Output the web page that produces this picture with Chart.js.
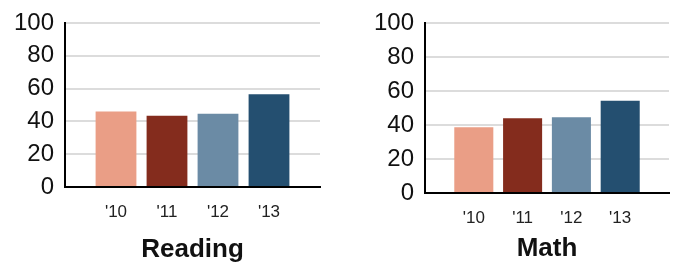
<!DOCTYPE html>
<html>
<head>
<meta charset="utf-8">
<script src="https://cdn.jsdelivr.net/npm/chart.js@4"></script>
<style>
  body { margin: 0; background: #fff; }
  .box { position: absolute; top: 0; height: 266px; }
  #left { left: 0; width: 340px; }
  #right { left: 340px; width: 338px; }
</style>
</head>
<body>
<div class="box" id="left"><canvas id="leitura"></canvas></div>
<div class="box" id="right"><canvas id="matematica"></canvas></div>
<script>
// empty labels at the ends keep the bars off the axes
const anos = ['', "'10", "'11", "'12", "'13", '']
const leitura = [null, 46, 43.5, 44.6, 56.5, null]
const matematica = [null, 38.7, 44, 44.6, 54.2, null]
const yTicks = [0, 20, 40, 60, 80, 100]
const cores = ['#fff', '#ea9e86', '#842c1d', '#6b8ba5', '#244f70', '#fff']

function graficoBarras(canvas, titulo, valores, larguraEixo, padding, espacoTick, espacoTitulo) {
    return new Chart(canvas, {
        type: 'bar',
        data: {
            labels: anos,
            datasets: [{
                data: valores,
                backgroundColor: cores,
                categoryPercentage: 1,
                barPercentage: 0.8
            }]
        },
        options: {
            responsive: true,
            maintainAspectRatio: false,
            animation: false,
            layout: { padding: padding },
            plugins: { legend: { display: false }, tooltip: { enabled: false } },
            scales: {
                x: {
                    offset: false,
                    grid: { display: false },
                    border: { color: '#000', width: 2 },
                    ticks: {
                        color: '#222', autoSkip: false, maxRotation: 0, padding: espacoTick,
                        font: { family: 'Liberation Sans', size: 17, lineHeight: 1 }
                    },
                    title: {
                        display: true, text: titulo, color: '#111',
                        padding: { top: espacoTitulo, bottom: 0 },
                        font: { family: 'Liberation Sans', size: 26, weight: 'bold', lineHeight: 1 }
                    }
                },
                y: {
                    min: 0,
                    max: 100,
                    afterBuildTicks: (scale) => { scale.ticks = yTicks.map(v => ({ value: v })) },
                    afterFit: (scale) => { scale.width = larguraEixo },
                    grid: { color: '#dcdcdc', lineWidth: 2, drawTicks: false },
                    border: { color: '#000', width: 2 },
                    ticks: {
                        color: '#111', padding: 11, autoSkip: false,
                        font: { family: 'Liberation Sans', size: 24, lineHeight: 1 }
                    }
                }
            }
        }
    })
}

graficoBarras(document.getElementById('leitura'), 'Reading', leitura, 65, { top: 8, right: 20, bottom: 3 }, 9, 7)
graficoBarras(document.getElementById('matematica'), 'Math', matematica, 85, { top: 12, right: 0, bottom: 4 }, 9, 0)
</script>
</body>
</html>
